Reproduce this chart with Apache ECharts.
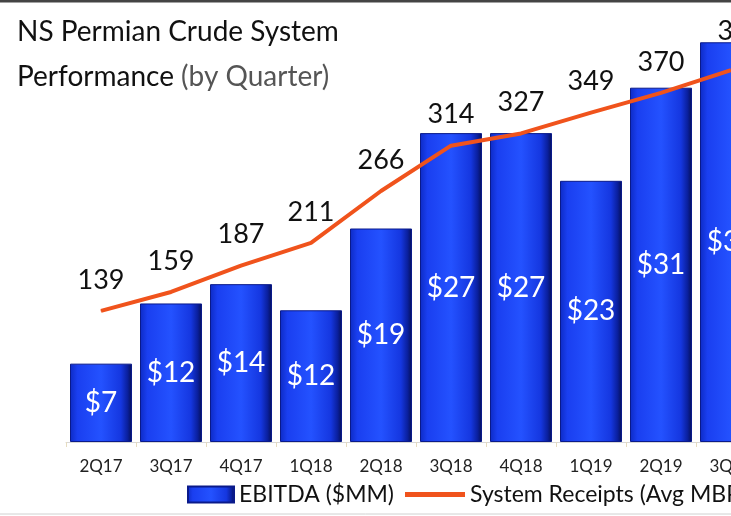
<!DOCTYPE html>
<html>
<head>
<meta charset="utf-8">
<title>NS Permian Crude System</title>
<script src="https://cdn.jsdelivr.net/npm/echarts@6/dist/echarts.min.js"></script>
<style>
  html, body {
    margin: 0;
    padding: 0;
    background: #fff;
  }
  #main {
    width: 731px;
    height: 516px;
  }
</style>
</head>
<body>
<div id="main"></div>
<script>
// quarters shown on the x axis (last one is cut off at the right edge)
const quarters = ['2Q17', '3Q17', '4Q17', '1Q18', '2Q18', '3Q18', '4Q18', '1Q19', '2Q19', '3Q19']
// EBITDA in $MM (bar heights)
const ebitda = [6.9, 12.2, 13.9, 11.6, 18.8, 27.2, 27.2, 23.0, 31.2, 35.2]
// average system receipts (MBPD)
const receipts = [139, 159, 187, 211, 266, 314, 327, 349, 370, 394]

const myChart = echarts.init(document.getElementById('main'))

const barColor = new echarts.graphic.LinearGradient(0, 0, 1, 0, [
  { offset: 0, color: '#0d2bc4' },
  { offset: 0.12, color: '#1a3ff0' },
  { offset: 0.5, color: '#2452ff' },
  { offset: 0.82, color: '#1537e0' },
  { offset: 0.93, color: '#0a1f9c' },
  { offset: 1, color: '#050f55' }
])

// the last label sits a bit to the right in the original
const lineData = receipts.map((v, i) =>
  i === receipts.length - 1 ? { value: v, label: { offset: [10, -8] } } : v
)

myChart.setOption({
  animation: false,
  textStyle: {
    fontFamily: 'Lato, "Open Sans", sans-serif'
  },
  title: {
    left: 12,
    top: 4,
    text: '{a|NS Permian Crude System}\n{a|Performance}{b| (by Quarter)}',
    textStyle: {
      rich: {
        a: { fontSize: 28, color: '#111', lineHeight: 45, fontWeight: 'normal', fontFamily: 'Lato' },
        b: { fontSize: 28, color: '#555', lineHeight: 45, fontWeight: 'normal', fontFamily: 'Lato' }
      }
    }
  },
  legend: [
    {
      left: 187,
      top: 483,
      padding: 0,
      itemWidth: 46,
      itemHeight: 16,
      textStyle: {
        fontSize: 23,
        color: '#111'
      },
      data: [{ name: 'EBITDA ($MM)', icon: 'rect' }]
    },
    {
      left: 405,
      top: 483,
      padding: 0,
      width: 900,
      itemWidth: 60,
      itemHeight: 5,
      textStyle: {
        fontSize: 23,
        color: '#111'
      },
      data: [{ name: 'System Receipts (Avg MBPD)', icon: 'rect' }]
    }
  ],
  grid: {
    left: 66,
    right: -35,
    top: 40,
    bottom: 74,
    containLabel: false,
    outerBoundsMode: 'none'
  },
  xAxis: {
    type: 'category',
    data: quarters,
    axisLine: {
      lineStyle: { color: '#d8d8d8' }
    },
    axisTick: {
      show: true,
      lineStyle: { color: '#e6dcc0' }
    },
    axisLabel: {
      color: '#222',
      fontSize: 17,
      margin: 16
    }
  },
  yAxis: [
    { type: 'value', min: 0, max: 35.4, show: false, splitLine: { show: false } },
    { type: 'value', min: 0, max: 426, show: false, splitLine: { show: false } }
  ],
  series: [
    {
      type: 'bar',
      name: 'EBITDA ($MM)',
      data: ebitda,
      barWidth: 62,
      itemStyle: {
        color: barColor,
        borderColor: '#0a1a8a',
        borderWidth: 1
      },
      label: {
        show: true,
        position: 'inside',
        color: '#fff',
        fontSize: 28,
        formatter: p => '$' + Math.round(p.value)
      },
      z: 2
    },
    {
      type: 'line',
      name: 'System Receipts (Avg MBPD)',
      yAxisIndex: 1,
      data: lineData,
      symbol: 'circle',
      symbolSize: 1,
      showSymbol: true,
      lineStyle: {
        color: '#f0531c',
        width: 4
      },
      itemStyle: { color: '#f0531c' },
      label: {
        show: true,
        position: 'top',
        distance: 17,
        color: '#111',
        fontSize: 27
      },
      z: 3
    }
  ],
  graphic: [
    {
      type: 'line',
      shape: { x1: 0, y1: 1, x2: 731, y2: 1 },
      style: { stroke: '#444', lineWidth: 3 }
    },
    {
      type: 'line',
      shape: { x1: 0, y1: 514, x2: 731, y2: 514 },
      style: { stroke: '#d0d0d0', lineWidth: 1 }
    }
  ]
})

window.addEventListener('resize', () => {
  myChart.resize()
})
</script>
</body>
</html>
